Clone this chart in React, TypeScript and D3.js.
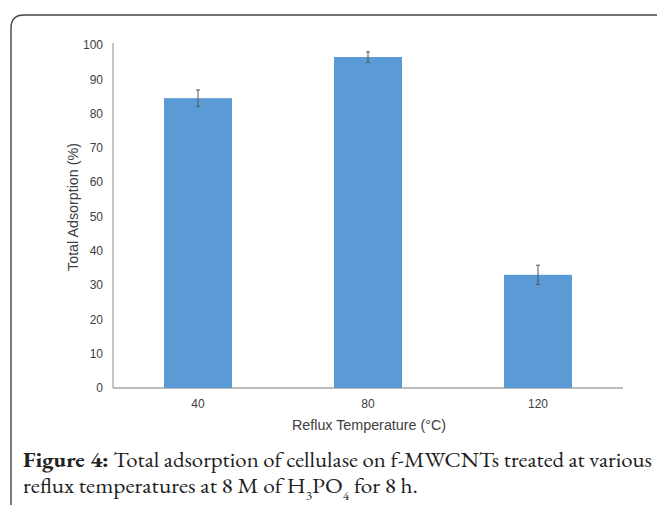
import React from "react";
import * as d3 from "d3";

const categories = ["40", "80", "120"];
const values = [84.5, 96.5, 33];
const errors = [2.4, 1.5, 2.8];
const yTicks = [0, 10, 20, 30, 40, 50, 60, 70, 80, 90, 100];

export default function App() {
  const W = 657, H = 505;
  const x0 = 113, x1 = 623, yTop = 45, yBot = 388;
  const x = d3.scaleBand().domain(categories).range([x0, x1]).paddingInner(0.6).paddingOuter(0.3);
  const y = d3.scaleLinear().domain([0, 100]).range([yBot, yTop]);
  const framePath = `M11,${H} L11,28 Q11,15 24,15 L${W + 5},15`;
  const sans = "Liberation Sans, Arial, sans-serif";
  const serif = "'EB Garamond', 'Liberation Serif', 'Times New Roman', serif";
  return (
    <svg width={W} height={H} style={{ position: "absolute", left: 0, top: 0, background: "#fff" }}>
      <rect x={0} y={0} width={W} height={H} fill="#fff" />
      <path d={framePath} fill="none" stroke="#444" strokeWidth={1.4} />
      <line x1={x0} x2={x0} y1={yTop - 2} y2={yBot} stroke="#a6a6a6" strokeWidth={1.3} />
      <line x1={x0} x2={x1} y1={yBot} y2={yBot} stroke="#a6a6a6" strokeWidth={1.3} />
      {yTicks.map((t) => (
        <text key={t} x={103} y={y(t)} dy="0.35em" textAnchor="end" fontFamily={sans} fontSize={12} fill="#404040">
          {t}
        </text>
      ))}
      {categories.map((c, i) => {
        const bx = x(c)!;
        const bw = x.bandwidth();
        const cx = bx + bw / 2;
        return (
          <g key={c}>
            <rect x={bx} y={y(values[i])} width={bw} height={yBot - y(values[i])} fill="#5b9bd5" />
            <line x1={cx} x2={cx} y1={y(values[i] + errors[i])} y2={y(values[i] - errors[i])} stroke="#555" strokeWidth={1} />
            <line x1={cx - 2} x2={cx + 2} y1={y(values[i] + errors[i])} y2={y(values[i] + errors[i])} stroke="#555" strokeWidth={1} />
            <line x1={cx - 2} x2={cx + 2} y1={y(values[i] - errors[i])} y2={y(values[i] - errors[i])} stroke="#555" strokeWidth={1} />
            <text x={cx} y={408} textAnchor="middle" fontFamily={sans} fontSize={12} fill="#404040">
              {c}
            </text>
          </g>
        );
      })}
      <text x={369} y={430} textAnchor="middle" fontFamily={sans} fontSize={14.3} fill="#404040">
        Reflux Temperature (°C)
      </text>
      <text transform={`translate(78,207) rotate(-90)`} textAnchor="middle" fontFamily={sans} fontSize={14.3} fill="#404040">
        Total Adsorption (%)
      </text>
      <text x={23} y={467} fontFamily={serif} fontSize={21} fill="#222" textLength={629} lengthAdjust="spacingAndGlyphs">
        <tspan fontWeight="bold">Figure 4:</tspan> Total adsorption of cellulase on f-MWCNTs treated at various
      </text>
      <text x={23} y={493} fontFamily={serif} fontSize={21} fill="#222" textLength={395} lengthAdjust="spacingAndGlyphs">
        reflux temperatures at 8 M of H
        <tspan fontSize={12} dy={7}>3</tspan>
        <tspan dy={-7}>PO</tspan>
        <tspan fontSize={12} dy={7}>4</tspan>
        <tspan dy={-7}> for 8 h.</tspan>
      </text>
    </svg>
  );
}
